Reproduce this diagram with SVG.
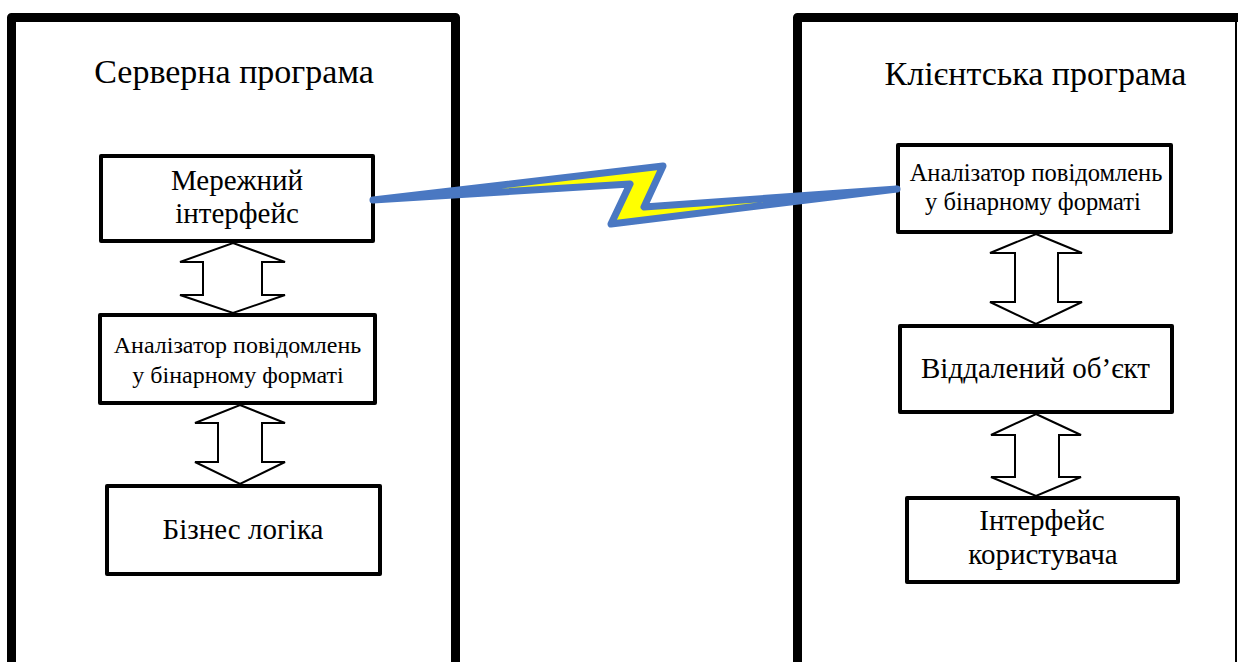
<svg xmlns="http://www.w3.org/2000/svg" width="1238" height="662" viewBox="0 0 1238 662">
  <defs>
    <style>
      .frame { fill: none; stroke: #000; stroke-width: 9; stroke-linejoin: round; }
      .box { fill: #fff; stroke: #000; stroke-width: 4; stroke-linejoin: round; }
      .dbl { fill: #fff; stroke: #000; stroke-width: 2; stroke-linejoin: miter; }
      .bolt { fill: #ffff00; stroke: #4a78c2; stroke-width: 7; stroke-linejoin: round; }
    </style>
  </defs>
  <rect width="1238" height="662" fill="#fff"/>

  <!-- program containers -->
  <g id="server">
    <rect class="frame" x="11.5" y="17.5" width="444" height="700"/>
    <text x="234" y="83" font-family="Liberation Serif" font-size="34" text-anchor="middle" fill="#000">Серверна програма</text>
  </g>
  <g id="client">
    <path class="frame" d="M797.5,700 V17.5 H1245"/>
    <line x1="1236" y1="20" x2="1236" y2="662" stroke="#000" stroke-width="2"/>
    <text x="1035.5" y="85" font-family="Liberation Serif" font-size="34" text-anchor="middle" fill="#000">Клієнтська програма</text>
  </g>

  <!-- server blocks -->
  <g id="net-iface">
    <rect class="box" x="101" y="156" width="272" height="85"/>
    <text x="237" y="190" font-family="Liberation Serif" font-size="29" text-anchor="middle" fill="#000">Мережний</text>
    <text x="237" y="223" font-family="Liberation Serif" font-size="29" text-anchor="middle" fill="#000">інтерфейс</text>
  </g>
  <g id="server-parser">
    <rect class="box" x="100" y="315" width="275" height="88"/>
    <text x="237.5" y="353" font-family="Liberation Serif" font-size="24" text-anchor="middle" fill="#000">Аналізатор повідомлень</text>
    <text x="238" y="383" font-family="Liberation Serif" font-size="24" text-anchor="middle" fill="#000">у бінарному форматі</text>
  </g>
  <g id="business">
    <rect class="box" x="107" y="486" width="273" height="88"/>
    <text x="243" y="539" font-family="Liberation Serif" font-size="29" text-anchor="middle" fill="#000">Бізнес логіка</text>
  </g>

  <!-- client blocks -->
  <g id="client-parser">
    <rect class="box" x="898" y="145" width="273" height="87"/>
    <text x="1036" y="181" font-family="Liberation Serif" font-size="24.5" text-anchor="middle" fill="#000">Аналізатор повідомлень</text>
    <text x="1033" y="210" font-family="Liberation Serif" font-size="24.5" text-anchor="middle" fill="#000">у бінарному форматі</text>
  </g>
  <g id="remote-object">
    <rect class="box" x="900" y="326" width="272" height="86"/>
    <text x="1035.5" y="378" font-family="Liberation Serif" font-size="29" text-anchor="middle" fill="#000">Віддалений об’єкт</text>
  </g>
  <g id="user-iface">
    <rect class="box" x="907" y="498" width="271" height="84"/>
    <text x="1042" y="530" font-family="Liberation Serif" font-size="29" text-anchor="middle" fill="#000">Інтерфейс</text>
    <text x="1043" y="564" font-family="Liberation Serif" font-size="29" text-anchor="middle" fill="#000">користувача</text>
  </g>

  <!-- connectors -->
  <g id="connectors">
    <path class="dbl" d="M233,243 L285,262 L262,262 L262,295 L285,295 L233,313 L180,295 L203,295 L203,262 L180,262 Z"/>
    <path class="dbl" d="M240,405 L285,423 L262,423 L262,462 L285,462 L240,484 L195,462 L218,462 L218,423 L195,423 Z"/>
    <path class="dbl" d="M1036,234 L1082,253 L1058,253 L1058,302 L1082,302 L1036,324 L990,302 L1015,302 L1015,253 L990,253 Z"/>
    <path class="dbl" d="M1036,414 L1081,435 L1059,435 L1059,477 L1081,477 L1036,496 L991,477 L1015,477 L1015,435 L991,435 Z"/>
    <path class="bolt" d="M373,200 L663,166 L644,207 L897,189 L611,224 L630,184 Z"/>
  </g>
</svg>
